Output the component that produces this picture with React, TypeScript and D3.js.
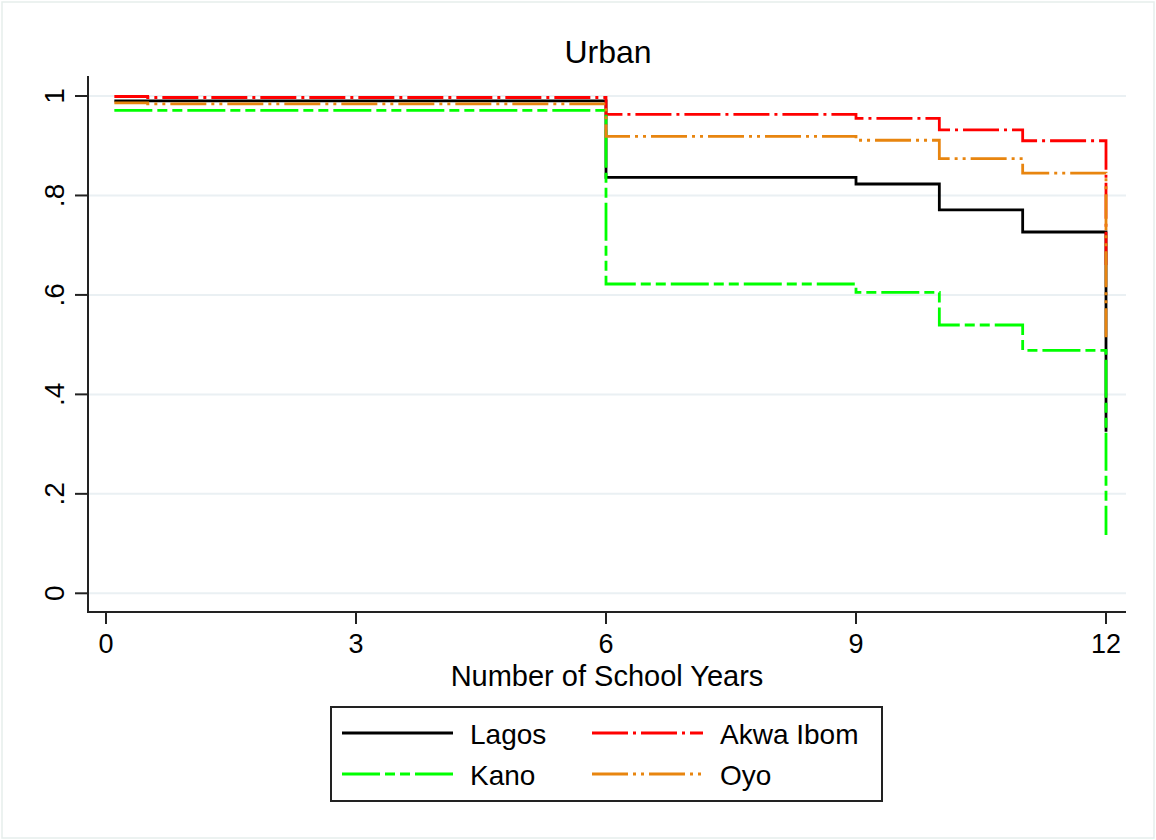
import React from "react";
import * as d3 from "d3";

const W = 1156;
const H = 840;

const xTicks = [0, 3, 6, 9, 12];
const yTicks = [0, 0.2, 0.4, 0.6, 0.8, 1];
const yTickLabels = ["0", ".2", ".4", ".6", ".8", "1"];

const lagosTime = [0.1, 6, 9, 10, 11, 12];
const lagosSurv = [0.99, 0.8365, 0.823, 0.771, 0.7265, 0.325];
const akwaTime = [0.1, 0.5, 6, 9, 10, 11, 12];
const akwaSurv = [0.999, 0.997, 0.963, 0.955, 0.932, 0.91, 0.66];
const kanoTime = [0.1, 6, 9, 10, 11, 12];
const kanoSurv = [0.971, 0.622, 0.605, 0.5395, 0.4886, 0.117];
const oyoTime = [0.1, 0.5, 6, 9, 10, 11, 12];
const oyoSurv = [0.986, 0.984, 0.919, 0.911, 0.874, 0.845, 0.515];

const seriesNames = ["Lagos", "Akwa Ibom", "Kano", "Oyo"];
const seriesColors = ["#000000", "#ff0000", "#00ff00", "#e8850f"];
const seriesDash = ["none", "36 5 3 5", "38 5 10 5 10 5", "36 5 3 5 3 5"];

const FONT = "'Liberation Sans', Arial, sans-serif";

export default function App() {
  const x = d3.scaleLinear().domain([0, 12]).range([106, 1106]);
  const y = d3.scaleLinear().domain([0, 1]).range([593.3, 96]);
  const left = 88;
  const right = 1126;
  const bottom = 612;
  const top = 76;

  const series = [
    { t: lagosTime, s: lagosSurv },
    { t: akwaTime, s: akwaSurv },
    { t: kanoTime, s: kanoSurv },
    { t: oyoTime, s: oyoSurv },
  ];

  const line = d3
    .line<[number, number]>()
    .x((d) => x(d[0]))
    .y((d) => y(d[1]))
    .curve(d3.curveStepAfter);

  const legendItems = [
    { i: 0, lx: 342, ly: 733 },
    { i: 1, lx: 592, ly: 733 },
    { i: 2, lx: 342, ly: 774 },
    { i: 3, lx: 592, ly: 774 },
  ];

  return (
    <svg
      width={W}
      height={H}
      style={{ position: "absolute", left: 0, top: 0, background: "#fff" }}
    >
      <rect x={0} y={0} width={W} height={H} fill="#fff" />
      <rect x={2} y={2} width={W - 4} height={H - 4} fill="none" stroke="#e6eeec" strokeWidth={1.5} />

      {/* gridlines */}
      {yTicks.map((v) => (
        <line key={"g" + v} x1={left} x2={right} y1={y(v)} y2={y(v)} stroke="#eaf0f3" strokeWidth={2} />
      ))}

      {/* series */}
      {series.map((sr, i) => (
        <path
          key={"s" + i}
          d={line(sr.t.map((t, k) => [t, sr.s[k]] as [number, number])) || ""}
          fill="none"
          stroke={seriesColors[i]}
          strokeWidth={2.8}
          strokeDasharray={seriesDash[i]}
        />
      ))}

      {/* axes */}
      <line x1={left} x2={left} y1={top} y2={bottom + 1} stroke="#222" strokeWidth={2} />
      <line x1={left - 1} x2={right} y1={bottom} y2={bottom} stroke="#222" strokeWidth={2} />
      {yTicks.map((v, i) => (
        <g key={"yt" + v}>
          <line x1={left - 13} x2={left} y1={y(v)} y2={y(v)} stroke="#222" strokeWidth={2} />
          <text
            transform={`translate(64,${y(v)}) rotate(-90)`}
            textAnchor="middle"
            fontFamily={FONT}
            fontSize={28}
            fill="#000"
          >
            {yTickLabels[i]}
          </text>
        </g>
      ))}
      {xTicks.map((v) => (
        <g key={"xt" + v}>
          <line x1={x(v)} x2={x(v)} y1={bottom} y2={bottom + 12} stroke="#222" strokeWidth={2} />
          <text x={x(v)} y={653} textAnchor="middle" fontFamily={FONT} fontSize={27} fill="#000">
            {v}
          </text>
        </g>
      ))}

      <text x={607} y={686} textAnchor="middle" fontFamily={FONT} fontSize={29} fill="#000">
        Number of School Years
      </text>
      <text x={608} y={63} textAnchor="middle" fontFamily={FONT} fontSize={32} fill="#000">
        Urban
      </text>

      {/* legend */}
      <rect x={331} y={707} width={551} height={94} fill="#fff" stroke="#222" strokeWidth={2} />
      {legendItems.map((it) => (
        <g key={"l" + it.i}>
          <line
            x1={it.lx}
            x2={it.lx + 111}
            y1={it.ly}
            y2={it.ly}
            stroke={seriesColors[it.i]}
            strokeWidth={2.8}
            strokeDasharray={seriesDash[it.i]}
          />
          <text x={it.lx + 128} y={it.ly + 11} fontFamily={FONT} fontSize={28} fill="#000">
            {seriesNames[it.i]}
          </text>
        </g>
      ))}
    </svg>
  );
}
